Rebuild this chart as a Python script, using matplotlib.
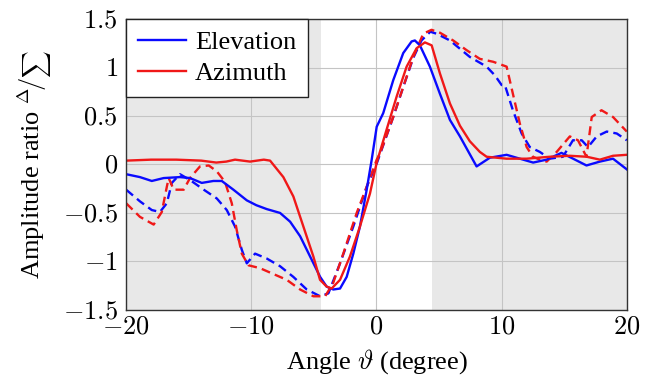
import matplotlib
matplotlib.use("Agg")
import matplotlib.pyplot as plt

plt.rcParams['font.family'] = ['Liberation Serif', 'DejaVu Serif']
plt.rcParams['mathtext.fontset'] = 'cm'

elev_x = [-20, -18.9, -17.95, -17.0, -15.7, -14.9, -13.96, -13.03, -12.36, -11.43, -10.36, -9.6,
          -8.77, -7.7, -6.9, -6.1, -5.3, -4.5, -3.98, -3.45, -2.91, -2.38, -1.85, -1.32, -0.78,
          -0.38, 0.02, 0.54, 1.34, 2.14, 2.81, 3.07, 3.47, 4.27, 5.07, 5.87, 6.67, 8.0, 9.06,
          10.4, 11.46, 12.52, 13.59, 14.78, 15.71, 16.78, 17.85, 18.9, 20]
elev_y = [-0.10, -0.13, -0.17, -0.14, -0.13, -0.14, -0.19, -0.17, -0.17, -0.26, -0.37, -0.42,
          -0.46, -0.50, -0.59, -0.74, -0.95, -1.16, -1.26, -1.29, -1.28, -1.16, -0.92, -0.64, -0.26,
          0.05, 0.39, 0.53, 0.87, 1.15, 1.27, 1.28, 1.23, 1.01, 0.73, 0.46, 0.29, -0.02, 0.07,
          0.10, 0.06, 0.02, 0.05, 0.12, 0.06, -0.01, 0.03, 0.06, -0.05]

azim_x = [-20, -18, -16, -14, -12.8, -12, -11.3, -10.1, -9.0, -8.5, -7.44, -6.64, -5.84, -5.04,
          -4.51, -3.98, -3.58, -2.91, -2.12, -1.32, -0.52, 0.02, 0.81, 1.61, 2.41, 3.21, 3.87,
          4.41, 5.07, 5.87, 6.67, 7.46, 8.26, 8.8, 10.4, 12.0, 13.85, 15.45, 16.8, 17.85, 18.9, 20]
azim_y = [0.04, 0.05, 0.05, 0.04, 0.02, 0.03, 0.05, 0.03, 0.05, 0.04, -0.13, -0.33, -0.64, -0.95,
          -1.19, -1.26, -1.28, -1.19, -0.95, -0.64, -0.30, 0.02, 0.36, 0.70, 1.01, 1.20, 1.26,
          1.23, 0.94, 0.63, 0.40, 0.24, 0.13, 0.08, 0.06, 0.06, 0.08, 0.09, 0.08, 0.05, 0.09, 0.10]

elev_sim_x = [-20, -18.9, -17.95, -17.3, -16.75, -16.35, -15.7, -14.9, -13.8, -12.76, -11.96,
              -11.3, -10.76, -10.36, -9.7, -8.77, -7.7, -6.64, -5.57, -4.5, -3.84, -2.91, -1.85,
              -0.78, 0.02, 1.34, 2.14, 2.94, 3.6, 4.3, 4.8, 5.87, 7.46, 8.8, 9.46, 10.0, 10.26,
              10.9, 11.6, 12.25, 13.05, 13.85, 14.9, 15.7, 16.4, 16.9, 17.6, 18.4, 19.2, 20]
elev_sim_y = [-0.26, -0.38, -0.47, -0.49, -0.40, -0.19, -0.10, -0.16, -0.26, -0.35, -0.47,
              -0.64, -0.88, -1.02, -0.92, -0.97, -1.05, -1.16, -1.29, -1.36, -1.33, -1.02, -0.64,
              -0.23, 0.01, 0.49, 0.80, 1.10, 1.28, 1.37, 1.35, 1.28, 1.11, 1.01, 0.92, 0.82, 0.82,
              0.56, 0.32, 0.18, 0.13, 0.06, 0.08, 0.25, 0.25, 0.18, 0.29, 0.34, 0.32, 0.25]

azim_sim_x = [-20, -18.9, -17.8, -17.15, -16.75, -16.6, -16.2, -15.4, -14.9, -14.1, -13.4, -12.76,
              -12.1, -11.56, -11.16, -10.76, -10.23, -9.3, -8.24, -7.17, -6.1, -5.04, -4.1, -3.45,
              -2.65, -1.58, -0.78, 0.02, 0.3, 1.34, 2.14, 2.94, 3.74, 4.4, 5.07, 6.13, 7.2, 8.26,
              9.33, 10.4, 10.9, 11.46, 12.0, 12.5, 13.05, 13.6, 14.4, 15.45, 16.1, 16.78, 17.2,
              17.98, 18.9, 20]
azim_sim_y = [-0.40, -0.54, -0.62, -0.49, -0.23, -0.14, -0.26, -0.26, -0.14, -0.02, -0.01, -0.07,
              -0.18, -0.40, -0.68, -0.92, -1.04, -1.07, -1.13, -1.19, -1.29, -1.36, -1.36, -1.22,
              -0.92, -0.50, -0.23, 0.05, 0.12, 0.49, 0.80, 1.11, 1.35, 1.39, 1.36, 1.28, 1.18, 1.09,
              1.06, 1.01, 0.73, 0.42, 0.18, 0.08, 0.05, 0.03, 0.13, 0.29, 0.25, 0.08, 0.49,
              0.56, 0.49, 0.34]

shade_left = (-20, -4.4)
shade_right = (4.4, 20)

x_ticks = [-20, -10, 0, 10, 20]
y_ticks = [-1.5, -1, -0.5, 0, 0.5, 1, 1.5]
x_ticklabels = [r'$-20$', r'$-10$', r'$0$', r'$10$', r'$20$']
y_ticklabels = [r'$-1.5$', r'$-1$', r'$-0.5$', r'$0$', r'$0.5$', r'$1$', r'$1.5$']

fig = plt.figure(figsize=(6.57, 3.83), dpi=100)
ax = fig.add_axes([0.192, 0.191, 0.762, 0.759])

ax.axvspan(*shade_left, color='#e8e8e8', lw=0, zorder=0)
ax.axvspan(*shade_right, color='#e8e8e8', lw=0, zorder=0)
ax.grid(True, color='#c4c4c4', lw=0.8, zorder=1)
ax.set_axisbelow(True)

lw = 1.7
blue = '#0a0aff'
red = '#f01818'
ax.plot(elev_sim_x, elev_sim_y, color=blue, lw=lw, ls=(0, (3.8, 2.2)), zorder=3)
ax.plot(azim_sim_x, azim_sim_y, color=red, lw=lw, ls=(0, (3.8, 2.2)), zorder=3)
l1, = ax.plot(elev_x, elev_y, color=blue, lw=lw, zorder=4, label='Elevation')
l2, = ax.plot(azim_x, azim_y, color=red, lw=lw, zorder=4, label='Azimuth')

ax.set_xlim(-20, 20)
ax.set_ylim(-1.5, 1.5)
ax.set_xticks(x_ticks)
ax.set_xticklabels(x_ticklabels)
ax.set_yticks(y_ticks)
ax.set_yticklabels(y_ticklabels)
ax.tick_params(labelsize=19, length=0)
ax.tick_params(axis='x', pad=5)
ax.tick_params(axis='y', pad=6)
for s in ax.spines.values():
    s.set_color('#333333')
    s.set_linewidth(1.0)
    s.set_zorder(6)

ax.set_xlabel(r'Angle $\vartheta$ (degree)', fontsize=19, labelpad=6)
ax.set_ylabel(r'Amplitude ratio $^{\Delta}\!/_{\sum}$', fontsize=19, labelpad=6)

leg = ax.legend(handles=[l1, l2], loc='upper left', fontsize=19, frameon=True, fancybox=False,
                borderaxespad=0, handlelength=1.8, handletextpad=0.35, borderpad=0.45,
                labelspacing=0.28)
leg.get_frame().set_edgecolor('#222222')
leg.get_frame().set_linewidth(1.0)
leg.get_frame().set_alpha(1)
leg.set_zorder(10)

fig.savefig('out.png', dpi=100)
